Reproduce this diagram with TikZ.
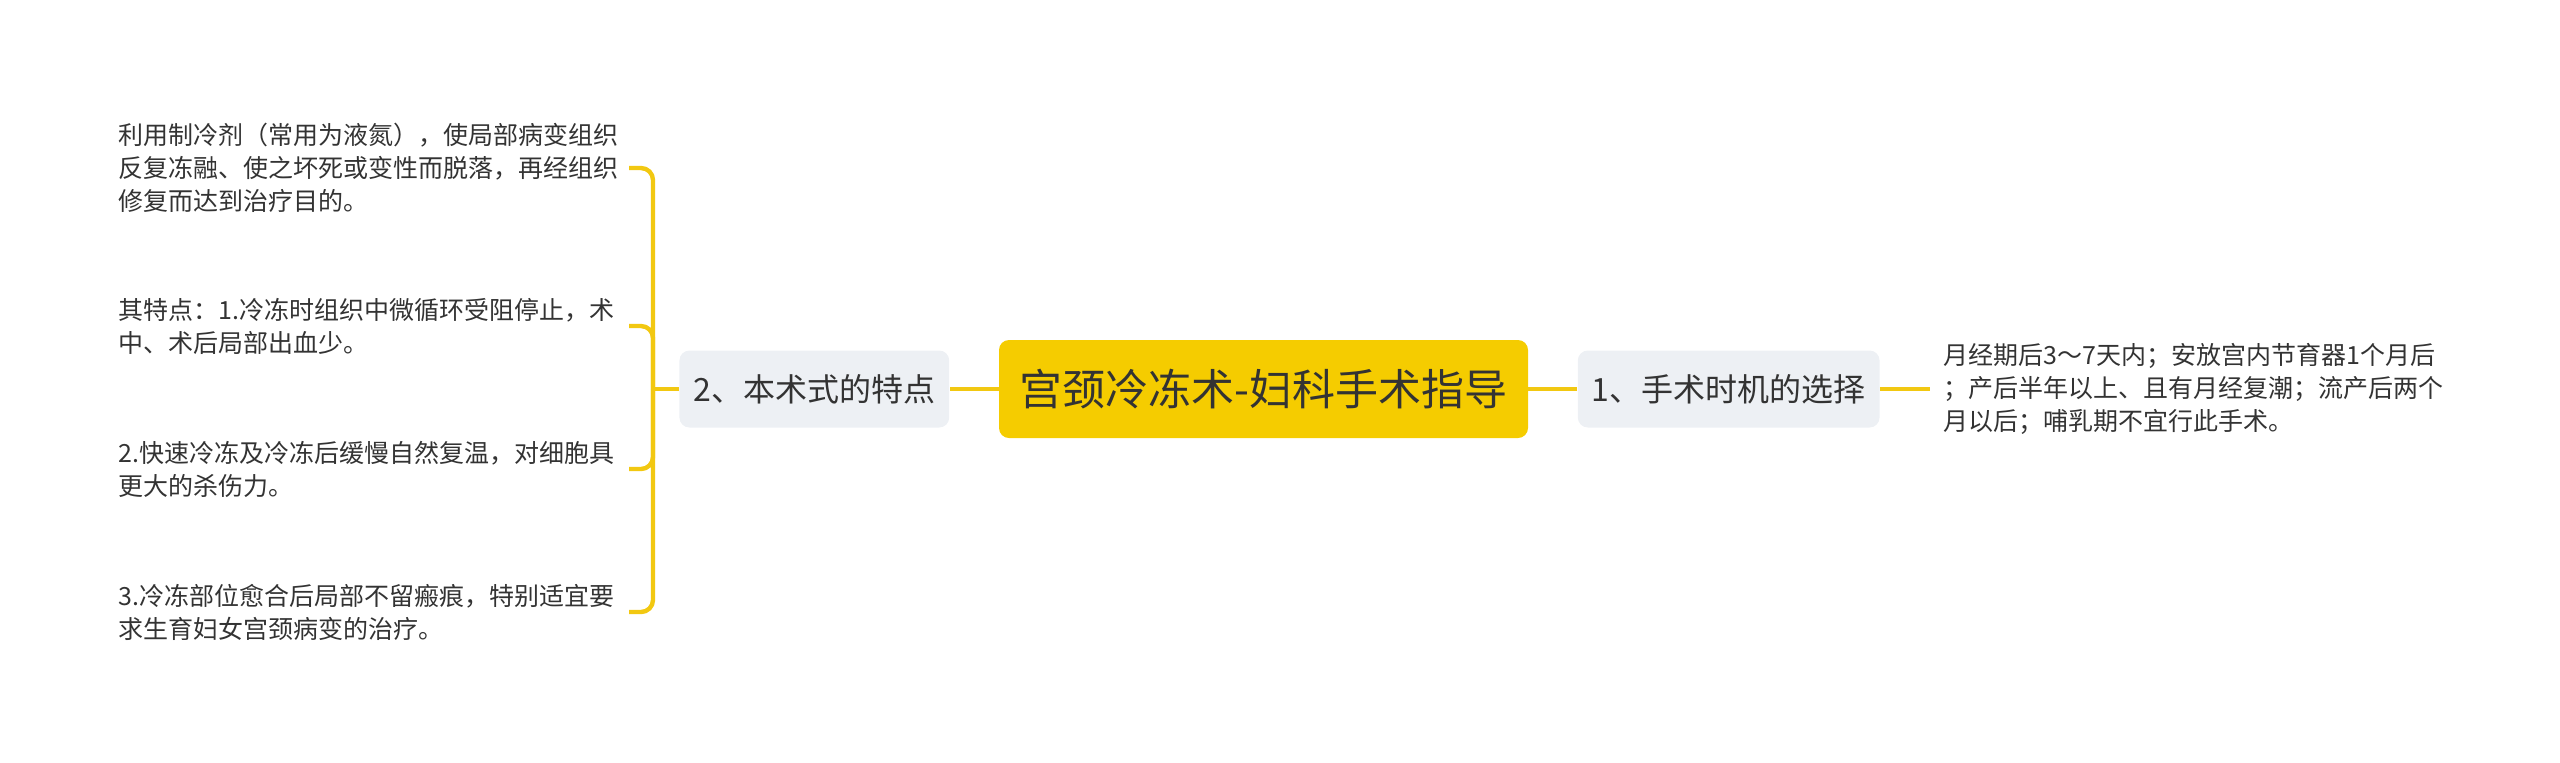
\documentclass[tikz,border=0pt]{standalone}
\usepackage{fontspec}
\setmainfont{Noto Sans CJK SC}
\usetikzlibrary{positioning}
\definecolor{mapgold}{HTML}{F5CC00}
\definecolor{linegold}{HTML}{F2C811}
\definecolor{topicgray}{HTML}{EDF0F4}
\definecolor{inkgray}{HTML}{333333}

\begin{document}
\begin{tikzpicture}
        [
            x=0.5pt, y=-0.5pt,
            root/.style={rectangle, rounded corners=5pt, fill=mapgold, text=inkgray, font=\fontsize{21.5}{26}\selectfont, minimum width=264.5pt, minimum height=49pt},
            topic/.style={rectangle, rounded corners=5pt, fill=topicgray, text=inkgray, font=\fontsize{16}{19}\selectfont, inner xsep=7pt, minimum height=38.5pt},
            leaf/.style={text=inkgray, font=\fontsize{12.5}{16.5}\selectfont, align=left, text width=250pt, inner xsep=5pt},
            link/.style={draw=linegold, line width=2.2pt, rounded corners=6pt}
        ]
        \useasboundingbox (0,0) rectangle (2560,762);
        %nodes
        \node[root] at (1263.5,389)                 (guide)         {宫颈冷冻术-妇科手术指导};
        \node[topic, left=24.5pt of guide]          (features)      {2、本术式的特点};
        \node[topic, right=24.5pt of guide]         (timing)        {1、手术时机的选择};
        \node[leaf, anchor=west, inner xsep=6.5pt] at (1930,389) (timing_txt)
            {月经期后3～7天内；安放宫内节育器1个月后\\；产后半年以上、且有月经复潮；流产后两个\\月以后；哺乳期不宜行此手术。};
        \coordinate (fork) at (653,389);
        \node[leaf, anchor=east] at (629,168)       (method_txt)    {利用制冷剂（常用为液氮），使局部病变组织\\反复冻融、使之坏死或变性而脱落，再经组织\\修复而达到治疗目的。};
        \node[leaf, anchor=east] at (629,326)       (point_one)     {其特点：1.冷冻时组织中微循环受阻停止，术\\中、术后局部出血少。};
        \node[leaf, anchor=east] at (629,469)       (point_two)     {2.快速冷冻及冷冻后缓慢自然复温，对细胞具\\更大的杀伤力。};
        \node[leaf, anchor=east] at (629,612)       (point_three)   {3.冷冻部位愈合后局部不留瘢痕，特别适宜要\\求生育妇女宫颈病变的治疗。};
        %arrows
        \draw[link] (guide.east) -- (timing.west);
        \draw[link] (timing.east) -- (timing_txt.west);
        \draw[link] (guide.west) -- (features.east);
        \draw[link] (features.west) -- (fork);
        \draw[link] (fork) |- (method_txt.east);
        \draw[link] (fork) |- (point_one.east);
        \draw[link] (fork) |- (point_two.east);
        \draw[link] (fork) |- (point_three.east);
    \end{tikzpicture}
\end{document}
